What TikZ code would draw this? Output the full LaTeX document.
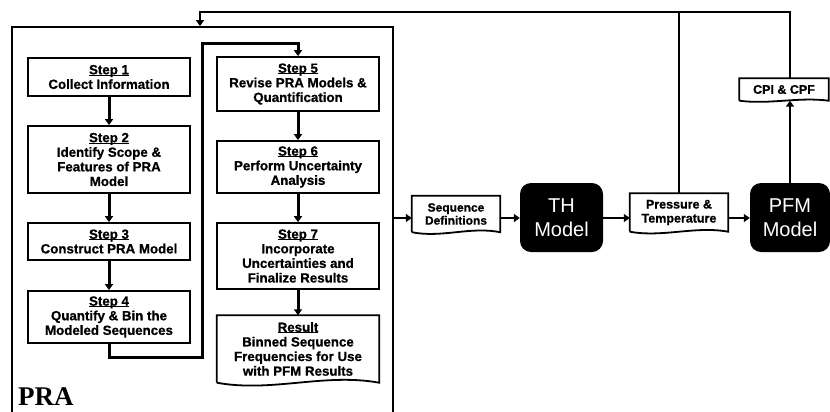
\documentclass[tikz,border=0pt]{standalone}
\usepackage{fontspec}
\setmainfont{Liberation Sans}
\newfontfamily\praserif{Liberation Serif}
\newfontfamily\heavy[FakeBold=0.8]{Liberation Sans Bold}
\usetikzlibrary{arrows.meta,calc}
\newcommand{\docwave}[3]{\draw[line width=1.8bp] (#1.south west) -- (#1.north west) -- (#1.north east) -- (#1.south east) .. controls +(-#2,-#3) and +(#2,#3) .. (#1.south west);}
\newcommand{\stepul}[1]{\leavevmode\setbox0\hbox{#1}\rlap{\rule[-1.6bp]{\wd0}{1.1bp}}\box0}
\begin{document}
\begin{tikzpicture}[x=1bp,y=-1bp,
  stepfont/.style={font=\heavy\fontsize{13.3bp}{14.6bp}\selectfont},
  stepbox/.style={draw, line width=1.8bp, fill=white, minimum width=162bp, align=center, inner sep=1bp, stepfont},
  docnode/.style={minimum width=#1, align=center, inner sep=1bp, stepfont},
  blackbox/.style={fill=black, rounded corners=11bp, text=white, minimum height=69bp, align=center, inner sep=1bp, font=\fontsize{20bp}{24bp}\selectfont},
  thick arr/.style={-{Triangle[width=8bp,length=6bp]}, line width=3bp},
  mid arr/.style={-{Triangle[width=8bp,length=6bp]}, line width=2.5bp},
  ]
\useasboundingbox (0,0) rectangle (830,411);
% PRA frame
\node[draw, line width=1.8bp, minimum width=381bp, minimum height=392bp, inner sep=0] (pra) at (202.5,223) {};
\node[font=\praserif\bfseries\fontsize{27bp}{27bp}\selectfont, anchor=base west, inner sep=0] (pralbl) at (18,405) {PRA};
% steps
\node[stepbox, minimum height=38bp] (s1) at (109,77) {\stepul{Step 1}\\Collect Information};
\node[stepbox, minimum height=67bp] (s2) at (109,159.5) {\stepul{Step 2}\\Identify Scope \&\\Features of PRA\\Model};
\node[stepbox, minimum height=37bp] (s3) at (109,241.5) {\stepul{Step 3}\\Construct PRA Model};
\node[stepbox, minimum height=52bp] (s4) at (109,317) {\stepul{Step 4}\\Quantify \& Bin the\\Modeled Sequences};
\node[stepbox, minimum height=54bp] (s5) at (298,84) {\stepul{Step 5}\\Revise PRA Models \&\\Quantification};
\node[stepbox, minimum height=52bp] (s6) at (298,167) {\stepul{Step 6}\\Perform Uncertainty\\Analysis};
\node[stepbox, minimum height=66bp] (s7) at (298,256) {\stepul{Step 7}\\Incorporate\\Uncertainties and\\Finalize Results};
\node[docnode=162bp, minimum height=67bp] (res) at (298,349) {\stepul{Result}\\Binned Sequence\\Frequencies for Use\\with PFM Results};
\docwave{res}{55}{10}
% right side
\node[docnode=88bp, minimum height=36bp, font=\heavy\fontsize{12bp}{13bp}\selectfont] (seq) at (456,214) {Sequence\\Definitions};
\docwave{seq}{30}{6}
\node[blackbox, minimum width=83bp] (th) at (561.5,217.5) {TH\\Model};
\node[docnode=98bp, minimum height=38bp, font=\heavy\fontsize{12.5bp}{14bp}\selectfont] (pt) at (679,212.5) {Pressure \&\\Temperature};
\docwave{pt}{33}{6}
\node[blackbox, minimum width=80bp] (pfm) at (790,217.5) {PFM\\Model};
\node[docnode=89bp, minimum height=22bp, font=\heavy\fontsize{12.5bp}{14bp}\selectfont] (cpi) at (784,89.5) {CPI \& CPF};
\docwave{cpi}{30}{4}
% step connectors
\draw[thick arr] (s1) -- (s2);
\draw[thick arr] (s2) -- (s3);
\draw[thick arr] (s3) -- (s4);
\coordinate (lb) at (202,357);
\coordinate (lt) at (202,43);
\draw[thick arr] (s4.south) -- (s4.south |- lb) -- (lb) -- (lt) -- (s5.north |- lt) -- (s5.north);
\draw[thick arr] (s5) -- (s6);
\draw[thick arr] (s6) -- (s7);
\draw[thick arr] (s7) -- (res);
% flow
\coordinate (y218) at (0,218);
\draw[mid arr] (pra.east |- y218) -- (seq.west |- y218);
\draw[mid arr] (seq.east |- y218) -- (th.west |- y218);
\draw[mid arr] (th.east |- y218) -- (pt.west |- y218);
\draw[mid arr] (pt.east |- y218) -- (pfm.west |- y218);
\draw[mid arr] (pfm.north) -- (pfm.north |- cpi.south);
% feedback
\coordinate (tr) at (790,12);
\coordinate (tl) at (200,12);
\draw[-{Triangle[width=8bp,length=6bp]}, line width=2.5bp] (pfm.north |- cpi.north) -- (tr) -- (tl) -- (tl |- pra.north);
\draw[line width=1.6bp] (pt.north) -- (pt.north |- tr);
\end{tikzpicture}
\end{document}
